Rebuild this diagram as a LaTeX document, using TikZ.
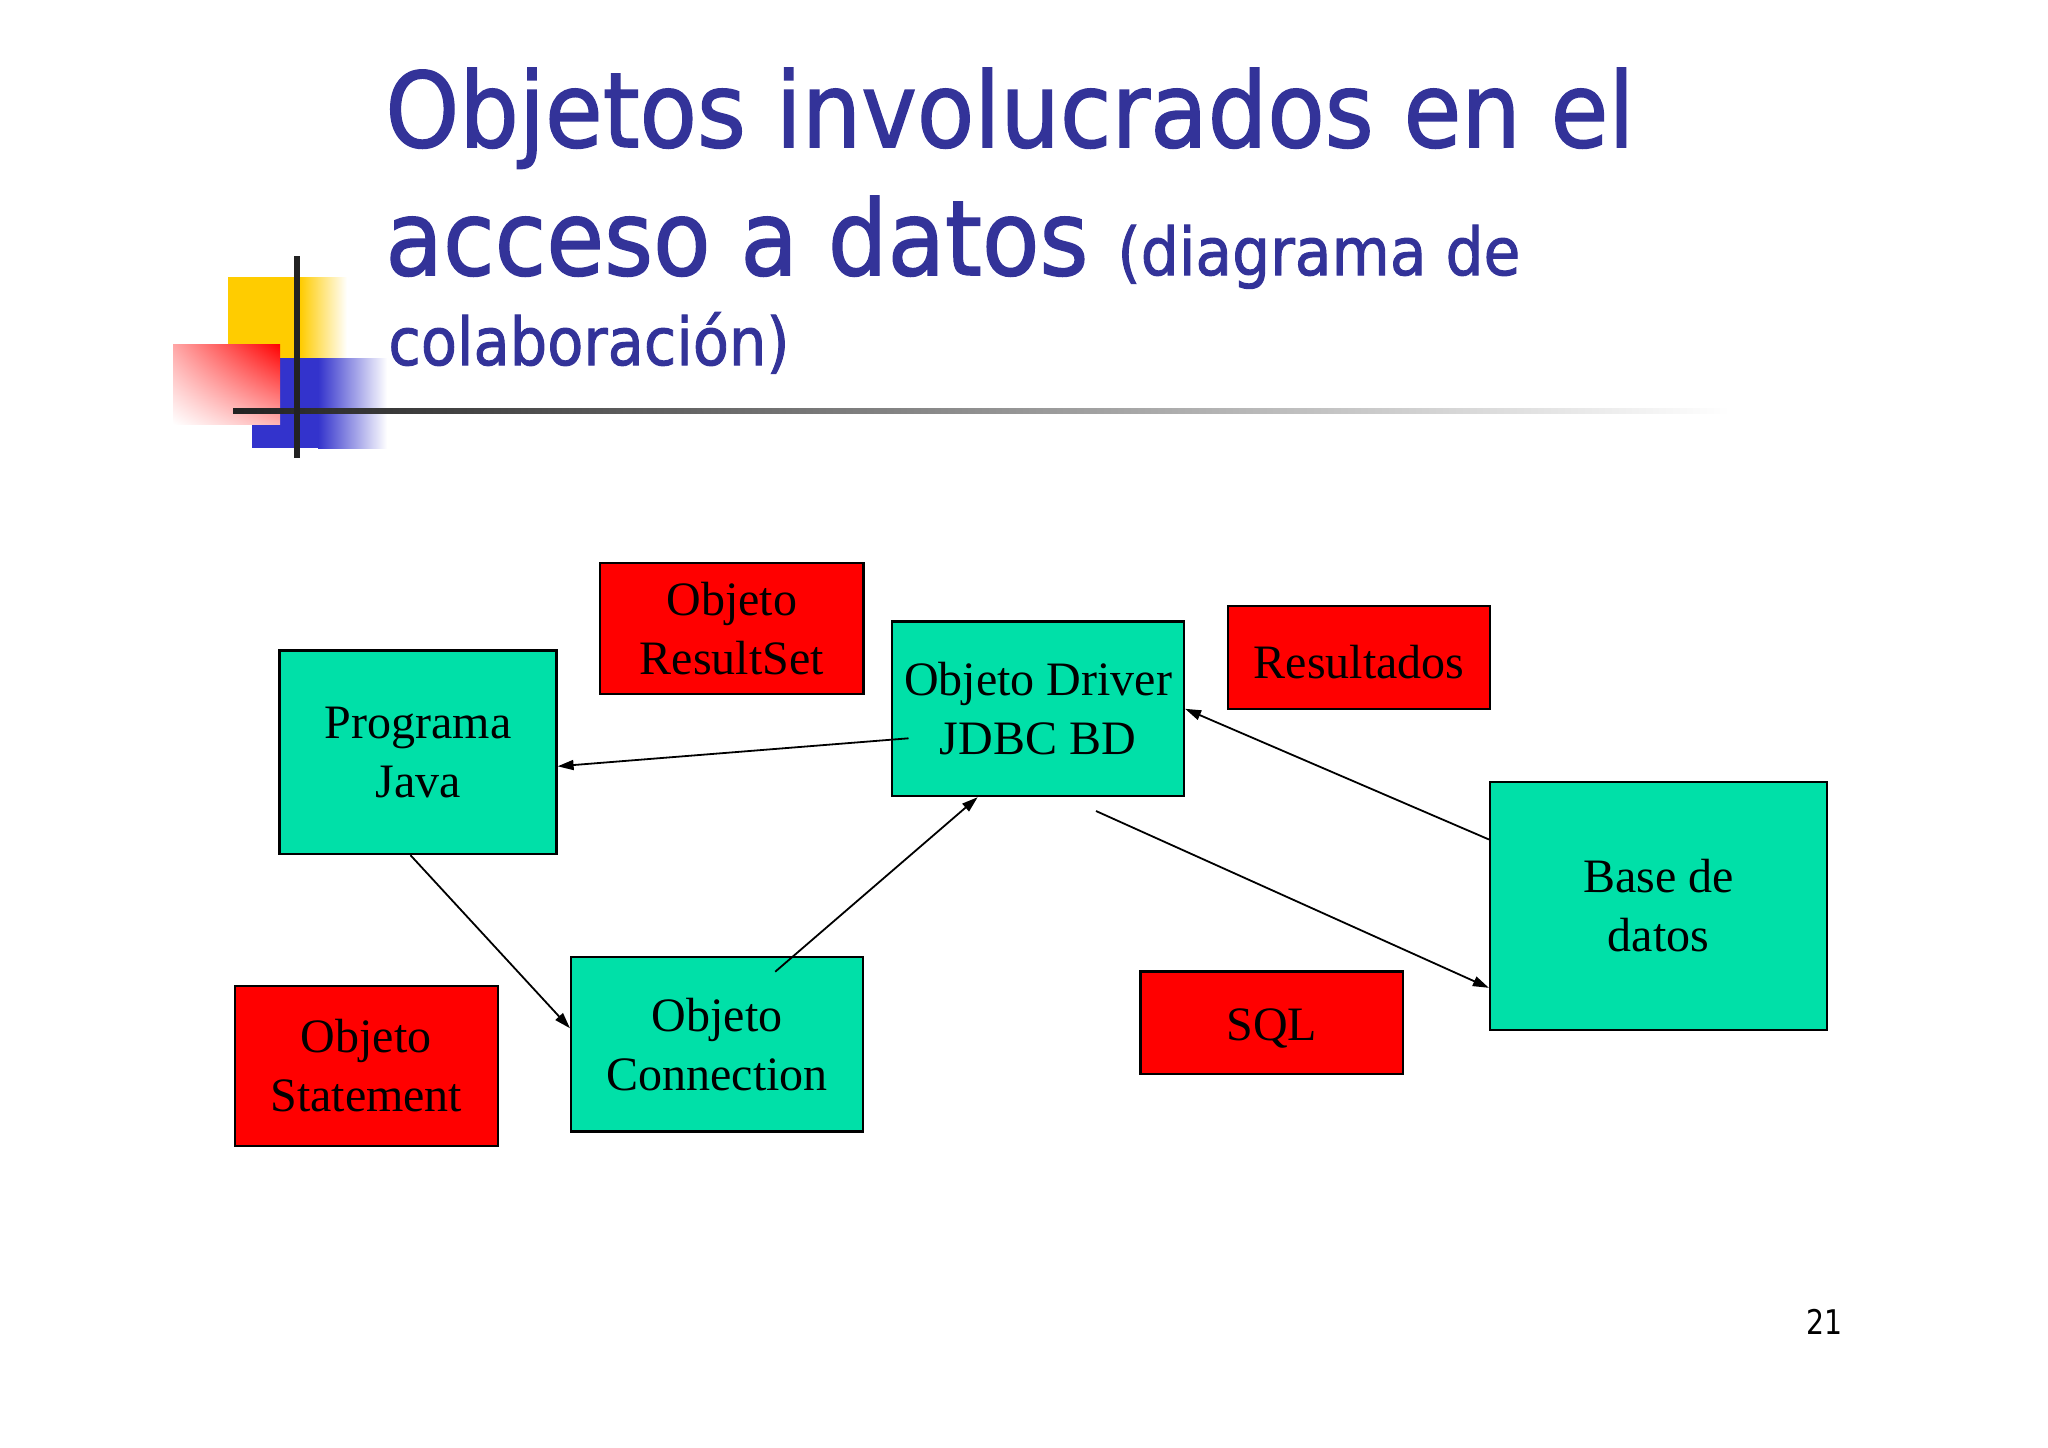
\documentclass[tikz,border=0pt]{standalone}
\usepackage{fontspec}
\usepackage{graphicx}
\usepackage{xfp}
\setmainfont{Liberation Serif}
\newfontfamily\titlefont[FakeBold=1.5]{DejaVu Sans}
\newfontfamily\pagefont{DejaVu Sans}
\usetikzlibrary{arrows.meta,calc,shadings}

\definecolor{tblue}{RGB}{51,51,153}
\definecolor{boxgreen}{RGB}{0,224,168}
\definecolor{lyellow}{RGB}{255,204,0}
\definecolor{lblue}{RGB}{51,51,204}
\definecolor{lred}{RGB}{255,0,0}
\definecolor{lgray}{RGB}{34,34,34}

\newsavebox\fitbox
\newlength\fitlen
\newcommand\fitto[2]{\sbox\fitbox{#2}\setlength\fitlen{\wd\fitbox}\scalebox{\fpeval{(#1)/\fitlen}}[1]{\usebox\fitbox}}
\newcommand\boxtop{\rule{0pt}{21.5pt}}

\tikzset{
  box/.style={draw=black, line width=1.1pt, inner sep=0pt, align=center,
    font=\fontsize{24pt}{29.5pt}\selectfont,
    execute at begin node=\boxtop},
  gbox/.style={box, fill=boxgreen},
  rbox/.style={box, fill=lred},
  arr/.style={-{Triangle[length=8pt,width=5pt]}, line width=0.9pt},
  ttl/.style={anchor=base west, inner sep=0pt, text=tblue},
}

\begin{document}
\begin{tikzpicture}[x=0.5pt,y=-0.5pt]
\useasboundingbox (0,0) rectangle (2048,1447);
\fill[white] (0,0) rectangle (2048,1447);

% logo
\fill[lyellow] (228,277) rectangle (300,358);
\shade[left color=lyellow, right color=white] (300,277) rectangle (347,358);
\fill[lblue] (252,358) rectangle (318,448);
\shade[left color=lblue, right color=white] (318,358) rectangle (387,448);
\shade[upper right=lred, upper left=lred!35!white, lower right=lred!30!white, lower left=white] (173,344) rectangle (280,424);
\shade[left color=lgray, middle color=lgray!55!white, right color=white] (233,408) rectangle (1730,413);
\fill[lgray] (294,256) rectangle (300,458);

% title
\node[ttl, font=\titlefont\fontsize{52pt}{60pt}\selectfont] (t1) at (385,147) {\fitto{624.5pt}{Objetos involucrados en el}};
\node[ttl, font=\titlefont\fontsize{52pt}{60pt}\selectfont] (t2) at (385,275) {\fitto{351.5pt}{acceso a datos}};
\node[ttl, font=\titlefont\fontsize{33pt}{40pt}\selectfont] (t3) at (1117,275) {\fitto{201.5pt}{(diagrama de}};
\node[ttl, font=\titlefont\fontsize{33pt}{40pt}\selectfont] (t4) at (388,365) {\fitto{200.5pt}{colaboración)}};

% boxes
\node[gbox, minimum width=138.5pt, minimum height=101.75pt] (java) at (418,752.3) {Programa\\Java};
\node[rbox, minimum width=131.75pt, minimum height=65.5pt] (rset) at (731.8,628.5) {Objeto\\ResultSet};
\node[gbox, minimum width=146pt, minimum height=87.25pt] (driver) at (1038,708.8) {Objeto Driver\\JDBC BD};
\node[rbox, minimum width=131pt, minimum height=51.5pt] (result) at (1359,657.5) {Resultados};
\node[gbox, minimum width=168.5pt, minimum height=124pt] (base) at (1658.5,906) {Base de\\datos};
\node[rbox, minimum width=131.35pt, minimum height=80pt] (stmt) at (366.3,1066) {Objeto\\Statement};
\node[gbox, minimum width=146.15pt, minimum height=87.25pt] (conn) at (717.2,1044.3) {Objeto\\Connection};
\node[rbox, minimum width=131.25pt, minimum height=51.25pt] (sql) at (1271.8,1022.8) {SQL};

% connectors
\coordinate (d1) at (908.5,738.3);
\coordinate (c1) at (775.2,971.7);
\coordinate (d2) at (1096,811);
\draw[arr] (d1) -- ($(java.north east)!0.568!(java.south east)$);
\draw[arr] ($(java.south west)!0.473!(java.south east)$) -- ($(conn.north west)!0.409!(conn.south west)$);
\draw[arr] (c1) -- ($(driver.south west)!0.295!(driver.south east)$);
\draw[arr] (d2) -- ($(base.north west)!0.827!(base.south west)$);
\draw[arr] ($(base.north west)!0.234!(base.south west)$) -- (driver.east);

% page number
\node[anchor=base west, inner sep=0pt, font=\pagefont\fontsize{17pt}{20pt}\selectfont] (pg) at (1806,1334) {\fitto{18pt}{21}};
\end{tikzpicture}
\end{document}
